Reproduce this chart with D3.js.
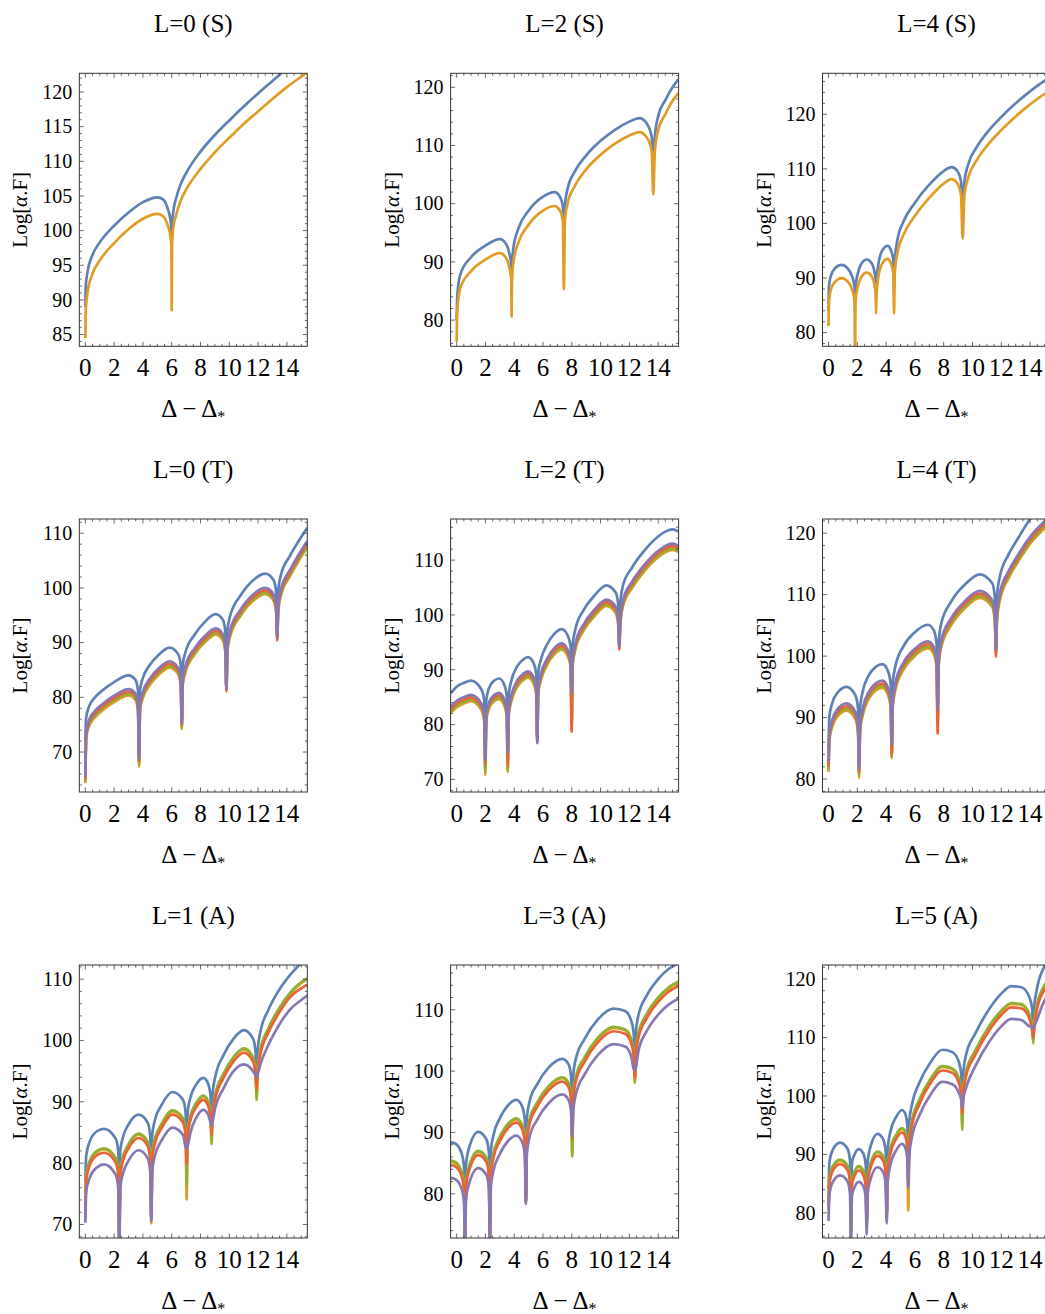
<!DOCTYPE html>
<html><head><meta charset="utf-8">
<script src="https://cdn.jsdelivr.net/npm/d3@7"></script>
<style>html,body{margin:0;padding:0;background:#fff}svg{display:block}</style>
</head><body><svg id="c" width="1045" height="1314"></svg>
<script>
// ---------- titles & ticks ----------
const titles = ["L=0 (S)","L=2 (S)","L=4 (S)","L=0 (T)","L=2 (T)","L=4 (T)","L=1 (A)","L=3 (A)","L=5 (A)"];
const xTicks = [0,2,4,6,8,10,12,14];
const yTicks1 = [85,90,95,100,105,110,115,120];
const yTicks80_120 = [80,90,100,110,120];
const yTicks70_110 = [70,80,90,100,110];
const yTicks80_110 = [80,90,100,110];
const yDomains = [[83.3,122.7],[75.5,122.4],[77.5,127.5],[62.7,112.6],[67.7,117.5],[77.9,122.3],[67.8,112.3],[72.8,117.3],[75.7,122.4]];

// ---------- P1  L=0 (S) ----------
const p1_x = [0,0.03,0.15,0.5,1,2,3,4,5,5.4,5.7,5.9,5.98,6.0,6.02,6.1,6.3,6.6,7,8,9,10,11,12,13,14,15,15.42];
const p1_blue = [89,92,94,96.5,98.3,100.7,102.6,104.1,104.8,104.5,103.3,101.7,100.2,96,100.6,102.6,104.6,106.6,108.3,111.4,113.8,115.9,117.9,119.8,121.6,123.4,125,125.7];
const p1_orange = [84.5,88.5,91,93.8,95.7,98.2,100.2,101.7,102.4,102.1,100.9,99.3,97.8,88.5,98.2,100.2,102.2,104.2,105.9,108.9,111.3,113.4,115.4,117.2,119,120.7,122.2,122.8];

// ---------- P2  L=2 (S) ----------
const p2_x = [0,0.04,0.25,1,2,3,3.45,3.7,3.8,3.82,3.84,3.95,4.3,5,6,6.8,7.2,7.38,7.45,7.52,7.7,8.2,9,10,11,12,12.7,13.2,13.55,13.66,13.77,14,14.5,15,15.42];
const p2_blue = [80,84,87.8,90.8,92.8,93.9,93,91,89.5,84,89.5,92.5,95.8,98.8,101.2,102,101.1,99.5,95,99.5,102.5,105.5,108.3,110.8,112.7,114.1,114.7,113.8,111.5,107,111.5,115,117.8,120,121.4];
const p2_orange = [76.3,81.5,85.5,88.4,90.4,91.5,90.6,88.6,87,80.6,87,90,93.4,96.4,98.8,99.6,98.7,97,85.3,97,100,103,105.9,108.4,110.3,111.7,112.3,111.4,109,101.6,109,112.6,115.4,117.7,119];

// ---------- P3  L=4 (S) ----------
const p3_x = [0,0.03,0.15,0.45,0.9,1.35,1.65,1.8,1.84,1.88,2.05,2.3,2.65,3.0,3.2,3.28,3.3,3.33,3.45,3.7,4.1,4.35,4.5,4.55,4.6,4.8,5.2,6,7,8,8.55,8.95,9.2,9.32,9.44,9.7,10.3,11,12,13,14,15,15.42];
const p3_blue = [84,88.5,90.3,91.8,92.4,91.7,90.2,88.5,85,88.5,91,92.7,93.4,92.7,91,89.5,86,89.5,92.3,94.9,95.9,95,93.2,88,93.2,97.2,100.3,103.8,107.1,109.6,110.3,109.6,107.7,103,107.7,110.8,114,116.6,119.5,122,124.2,126.1,126.7];
const p3_orange = [81.2,85.5,87.8,89.3,90,89.3,87.8,86,76,86,88.6,90.3,91,90.3,88.6,87,83.5,87,90,92.5,93.5,92.6,90.8,83.5,90.8,94.8,97.9,101.4,104.7,107.3,108.1,107.3,105.3,97.2,105.3,108.4,111.6,114.2,117.1,119.6,121.8,123.7,124.3];

// ---------- P4  L=0 (T) ----------
const p4_x = [0,0.06,0.25,0.6,1.2,2.0,3.0,3.48,3.66,3.73,3.80,3.98,4.5,5.1,5.85,6.45,6.63,6.7,6.77,6.95,7.6,8.3,9.05,9.55,9.73,9.8,9.87,10.05,10.8,11.7,12.5,13.08,13.26,13.33,13.40,13.58,14.2,14.8,15.42];
const p4_blue = [72,76.3,78.3,79.8,81.3,82.8,84.0,83.2,81.2,75,81.4,83.4,86.0,87.8,89.1,87.9,85.8,80,86.0,88.2,91.5,93.8,95.2,94.2,91.9,86,92.2,94.8,98.7,101.5,102.6,101.4,99.2,94,99.5,102.3,105.8,108.5,111.0];
const p4_orange = [64.3,72.65,74.65,76.15,77.65,79.15,80.35,79.55,77.55,67.4,77.75,79.75,82.35,84.15,85.45,84.25,82.15,74.2,82.35,84.55,87.85,90.05,91.45,90.45,88.15,81.6,88.45,91.05,94.95,97.75,98.85,97.65,95.45,91.0,95.75,98.55,102.05,104.85,107.45];
const p4_green = [64.6,72.95,74.95,76.45,77.95,79.45,80.65,79.85,77.85,67.8,78.05,80.05,82.65,84.45,85.75,84.55,82.45,74.4,82.65,84.85,88.15,90.35,91.75,90.75,88.45,81.5,88.75,91.35,95.25,98.05,99.15,97.95,95.75,90.8,96.05,98.85,102.35,105.15,107.75];
const p4_red = [65.0,73.35,75.35,76.85,78.35,79.85,81.05,80.25,78.25,68.3,78.45,80.45,83.05,84.85,86.15,84.95,82.85,74.9,83.05,85.25,88.55,90.75,92.15,91.15,88.85,81.1,89.15,91.75,95.65,98.45,99.55,98.35,96.15,90.4,96.45,99.25,102.75,105.55,108.15];
const p4_purple = [65.4,73.8,75.8,77.3,78.8,80.3,81.5,80.7,78.7,68.8,78.9,80.9,83.5,85.3,86.6,85.4,83.3,75.2,83.5,85.7,89.0,91.2,92.6,91.6,89.3,81.5,89.6,92.2,96.1,98.9,100.0,98.8,96.6,90.8,96.9,99.7,103.2,106.0,108.6];

// ---------- P5  L=2 (T) ----------
const p5_x = [-0.42,0,0.5,1.0,1.74,1.92,1.99,2.06,2.24,2.6,2.95,3.3,3.48,3.55,3.62,3.8,4.2,4.6,4.95,5.35,5.53,5.6,5.67,5.85,6.3,6.8,7.3,7.74,7.92,7.99,8.06,8.24,8.8,9.6,10.4,11.05,11.23,11.3,11.37,11.55,12.2,13,14,14.5,15,15.42];
const p5_blue = [85.7,86.9,87.6,88.0,86.3,84.3,79,84.5,86.6,88.0,88.4,87.3,85.3,80,85.5,88.0,90.6,91.8,92.3,91.2,89.3,84,89.5,91.8,94.7,96.6,97.4,96.1,94.2,88,94.5,97.3,100.8,103.6,105.4,104.1,101.8,96,102,105.3,108.7,111.6,114.3,115.2,115.6,115.2];
const p5_orange = [82.05,83.15,83.85,84.25,82.55,80.55,70.8,80.75,82.85,84.25,84.65,83.55,81.55,71.4,81.75,84.25,86.85,88.05,88.55,87.45,85.55,77.2,85.75,88.05,90.95,92.85,93.65,92.35,90.45,80.5,90.75,93.55,97.05,99.85,101.65,100.35,98.05,94.5,98.25,101.55,104.95,107.85,110.55,111.45,111.85,111.45];
const p5_green = [82.35,83.45,84.15,84.55,82.85,80.85,71.4,81.05,83.15,84.55,84.95,83.85,81.85,71.7,82.05,84.55,87.15,88.35,88.85,87.75,85.85,77.0,86.05,88.35,91.25,93.15,93.95,92.65,90.75,80.0,91.05,93.85,97.35,100.15,101.95,100.65,98.35,94.3,98.55,101.85,105.25,108.15,110.85,111.75,112.15,111.75];
const p5_red = [82.75,83.85,84.55,84.95,83.25,81.25,72.6,81.45,83.55,84.95,85.35,84.25,82.25,72.6,82.45,84.95,87.55,88.75,89.25,88.15,86.25,76.8,86.45,88.75,91.65,93.55,94.35,93.05,91.15,78.7,91.45,94.25,97.75,100.55,102.35,101.05,98.75,93.7,98.95,102.25,105.65,108.55,111.25,112.15,112.55,112.15];
const p5_purple = [83.2,84.3,85.0,85.4,83.7,81.7,73.5,81.9,84.0,85.4,85.8,84.7,82.7,74.6,82.9,85.4,88.0,89.2,89.7,88.6,86.7,76.6,86.9,89.2,92.1,94.0,94.8,93.5,91.6,85.7,91.9,94.7,98.2,101.0,102.8,101.5,99.2,94.2,99.4,102.7,106.1,109.0,111.7,112.6,113.0,112.6];

// ---------- P6  L=4 (T) ----------
const p6_x = [0,0.06,0.25,0.6,1.25,1.87,2.05,2.12,2.19,2.37,2.8,3.3,3.75,4.14,4.32,4.39,4.46,4.64,5.2,6.0,6.9,7.33,7.51,7.58,7.65,7.83,8.5,9.5,10.5,11.38,11.56,11.63,11.70,11.88,12.5,13.2,14,15,15.42];
const p6_blue = [85,90.2,92.3,94.0,95.0,93.6,91.4,86,91.6,94.2,96.9,98.3,98.7,97.5,95.4,90,95.6,98.3,101.6,103.9,105.1,104.1,101.9,96,102.2,105.3,108.8,111.7,113.3,111.8,109.3,104,109.6,112.7,116.5,119.3,122.3,125.2,126.3];
const p6_orange = [81.2,86.35,88.45,90.15,91.15,89.75,87.55,80.2,87.75,90.35,93.05,94.45,94.85,93.65,91.55,83.4,91.75,94.45,97.75,100.05,101.25,100.25,98.05,89.5,98.35,101.45,104.95,107.85,109.45,107.95,105.45,100.8,105.75,108.85,112.65,115.45,118.25,120.75,121.65];
const p6_green = [81.5,86.65,88.75,90.45,91.45,90.05,87.85,80.6,88.05,90.65,93.35,94.75,95.15,93.95,91.85,83.5,92.05,94.75,98.05,100.35,101.55,100.55,98.35,89.0,98.65,101.75,105.25,108.15,109.75,108.25,105.75,100.5,106.05,109.15,112.95,115.75,118.55,121.05,121.95];
const p6_red = [82.0,87.05,89.15,90.85,91.85,90.45,88.25,81.2,88.45,91.05,93.75,95.15,95.55,94.35,92.25,83.9,92.45,95.15,98.45,100.75,101.95,100.95,98.75,87.4,99.05,102.15,105.65,108.55,110.15,108.65,106.15,99.9,106.45,109.55,113.35,116.15,118.95,121.45,122.35];
const p6_purple = [82.8,87.5,89.6,91.3,92.3,90.9,88.7,81.7,88.9,91.5,94.2,95.6,96.0,94.8,92.7,85.5,92.9,95.6,98.9,101.2,102.4,101.4,99.2,91.2,99.5,102.6,106.1,109.0,110.6,109.1,106.6,101.0,106.9,110.0,113.8,116.6,119.4,121.9,122.8];

// ---------- P7  L=1 (A) ----------
const p7_x = [0,0.06,0.3,0.8,1.3,2.11,2.29,2.36,2.43,2.61,3.0,3.7,4.33,4.51,4.58,4.65,4.83,5.3,6.05,6.79,6.97,7.04,7.11,7.29,7.7,8.2,8.52,8.70,8.77,8.84,9.02,9.6,10.3,11.0,11.65,11.83,11.9,11.97,12.15,12.7,13.4,14.2,15,15.42];
const p7_blue = [77,81.2,83.5,85.2,85.6,84.0,81.8,76,82.0,84.2,86.3,87.9,86.6,84.4,79,84.6,87.0,89.5,91.6,90.3,88.1,83,88.3,90.6,92.8,93.9,93.0,91.0,86,91.3,94.0,97.6,100.3,101.7,100.3,98.0,93,98.3,101.3,104.9,108.0,110.6,112.6,113.4];
const p7_orange = [71.5,77.85,80.15,81.85,82.25,80.65,78.45,67.2,78.65,80.85,82.95,84.65,83.35,81.15,70.2,81.35,83.75,86.25,88.45,87.15,84.95,74.1,85.15,87.45,89.65,90.85,89.95,87.95,84.0,88.25,90.95,94.45,97.15,98.55,97.15,94.85,91.0,95.15,98.15,101.75,104.85,107.55,109.35,109.95];
const p7_green = [71.2,78,80.3,82.0,82.4,80.8,78.6,67,78.8,81.0,83.1,84.8,83.5,81.3,71,81.5,83.9,86.4,88.6,87.3,85.1,76.5,85.3,87.6,89.8,91.0,90.1,88.1,83.1,88.4,91.1,94.6,97.3,98.7,97.3,95.0,90.3,95.3,98.3,101.9,105.0,107.7,109.5,110.1];
const p7_red = [71.0,77.3,79.6,81.3,81.7,80.1,77.9,67.0,78.1,80.3,82.4,84.1,82.8,80.6,71.0,80.8,83.2,85.7,87.9,86.6,84.4,79.8,84.6,86.9,89.1,90.3,89.4,87.4,84.6,87.7,90.4,93.9,96.6,98.0,96.6,94.3,92.0,94.6,97.6,101.2,104.3,107.0,108.5,109.1];
const p7_purple = [70.3,75.3,77.6,79.3,79.8,78.1,75.9,66.0,76.1,78.3,80.4,82.1,80.8,78.6,70.5,78.8,81.2,83.7,85.8,84.6,82.6,82.4,82.8,84.9,87.4,88.7,88.0,86.6,86.2,86.8,89.0,92.2,95.0,96.1,95.0,94.3,94.0,94.4,96.0,99.2,102.3,105.0,106.6,107.3];

// ---------- P8  L=3 (A) ----------
const p8_x = [-0.42,-0.1,0.33,0.51,0.58,0.65,0.83,1.5,2.06,2.24,2.31,2.38,2.56,3.0,3.6,4.15,4.56,4.74,4.81,4.88,5.06,5.6,6.4,7.35,7.78,7.96,8.03,8.10,8.28,8.9,9.8,10.9,11.7,12.13,12.31,12.38,12.45,12.63,13.2,14,14.7,15.42];
const p8_blue = [88.4,88.2,86.7,84.5,79,84.7,87.2,90.1,88.9,86.7,81,87.0,89.6,92.3,94.5,95.3,94.2,92.0,86,92.3,95.0,97.9,100.6,102.0,101.1,98.9,93,99.2,102.0,105.3,108.4,110.2,109.8,108.2,105.9,100,106.2,109.1,112.3,115.0,116.6,117.6];
const p8_orange = [85.25,85.05,83.55,81.35,72.2,81.55,84.05,86.85,85.75,83.55,72.2,83.85,86.45,89.15,91.35,92.15,91.05,88.85,78.6,89.15,91.85,94.75,97.45,98.85,97.95,95.75,86.5,96.05,98.85,102.15,105.25,107.05,106.65,105.05,102.75,98.5,103.05,105.95,109.15,111.85,113.45,114.45];
const p8_green = [85.4,85.2,83.7,81.5,72,81.7,84.2,87.0,85.9,83.7,72,84.0,86.6,89.3,91.5,92.3,91.2,89.0,78.7,89.3,92.0,94.9,97.6,99.0,98.1,95.9,86.1,96.2,99.0,102.3,105.4,107.2,106.8,105.2,102.9,98.1,103.2,106.1,109.3,112.0,113.6,114.6];
const p8_red = [84.7,84.5,83.0,80.8,72.5,81.0,83.5,86.3,85.2,83.0,72.5,83.3,85.9,88.6,90.8,91.6,90.5,88.3,78.6,88.6,91.3,94.2,96.9,98.3,97.4,95.2,89.0,95.5,98.3,101.6,104.7,106.5,106.1,104.5,102.2,98.9,102.5,105.4,108.6,111.3,112.9,113.9];
const p8_purple = [82.6,82.4,80.9,78.7,72.0,78.9,81.4,84.2,83.1,80.9,72.0,81.2,83.8,86.5,88.7,89.5,88.4,86.2,78.3,86.5,89.2,92.1,94.8,96.2,95.3,93.1,89.4,93.4,96.2,99.5,102.6,104.4,104.0,102.4,100.3,100.2,100.5,103.3,106.5,109.2,110.8,111.8];

// ---------- P9  L=5 (A) ----------
const p9_x = [0,0.06,0.3,0.8,1.31,1.49,1.56,1.63,1.81,2.1,2.4,2.58,2.65,2.72,2.9,3.4,3.79,3.97,4.04,4.11,4.29,4.7,5.1,5.29,5.47,5.54,5.61,5.79,6.3,7.1,7.9,8.6,9.04,9.22,9.29,9.36,9.54,10.2,11.2,12.0,12.7,13.4,13.97,14.15,14.22,14.29,14.47,15.0,15.42];
const p9_blue = [84,88.6,90.8,92.0,91.0,89.0,84,88.6,90.0,90.9,90.2,88.3,84,88.8,91.2,93.5,92.6,90.5,86,91.0,93.8,96.4,97.6,97.2,95.2,90,95.6,98.5,102.2,105.8,107.9,107.5,105.9,103.7,99,104.0,106.9,110.7,115.0,117.5,118.8,118.6,116.8,114.8,110,115.2,118.2,122.2,124.0];
const p9_orange = [81.5,85.65,87.85,88.95,87.95,85.95,76.5,85.55,86.95,87.85,87.15,85.25,78.0,85.85,88.15,90.35,89.55,87.45,79.5,87.85,90.65,93.25,94.35,93.95,91.95,80.4,92.45,95.45,99.15,102.85,104.95,104.55,102.95,100.75,95.0,101.05,103.85,107.65,111.95,114.45,115.75,115.55,113.75,111.75,109.5,112.15,115.25,118.75,120.15];
const p9_green = [81,85.8,88.0,89.1,88.1,86.1,76,85.7,87.1,88.0,87.3,85.4,77.5,86.0,88.3,90.5,89.7,87.6,79,88.0,90.8,93.4,94.5,94.1,92.1,84.5,92.6,95.6,99.3,103.0,105.1,104.7,103.1,100.9,94.2,101.2,104.0,107.8,112.1,114.6,115.9,115.7,113.9,111.9,109.0,112.3,115.4,118.9,120.3];
const p9_red = [80.5,85.05,87.25,88.35,87.35,85.35,83.0,84.95,86.35,87.25,86.55,84.65,78.3,85.25,87.55,89.75,88.95,86.85,79.0,87.25,90.05,92.65,93.75,93.35,91.35,85.5,91.85,94.85,98.55,102.25,104.35,103.95,102.35,100.15,97.0,100.45,103.25,107.05,111.35,113.85,115.15,114.95,113.15,111.15,110.0,111.55,114.65,118.15,119.55];
const p9_purple = [78.6,83.1,85.3,86.4,85.4,83.4,75.0,83.0,84.4,85.3,84.6,82.7,76.3,83.3,85.6,87.8,87.0,84.9,78.2,85.3,88.1,90.7,91.8,91.4,89.4,84.3,89.9,92.9,96.6,100.3,102.4,102.0,100.6,99.3,98.0,99.5,101.3,105.1,109.4,111.9,113.2,113.0,111.9,111.8,111.5,111.9,113.0,116.3,117.7];

// ---------- assembly ----------
const colors = {blue:"#5E81B5", orange:"#E19C24", green:"#8FB032", red:"#EB6235", purple:"#8778B3"};
const panels = [
  {x:p1_x, s:[["blue",p1_blue],["orange",p1_orange]], yt:yTicks1, minor:1},
  {x:p2_x, s:[["blue",p2_blue],["orange",p2_orange]], yt:yTicks80_120, minor:2},
  {x:p3_x, s:[["blue",p3_blue],["orange",p3_orange]], yt:yTicks80_120, minor:2},
  {x:p4_x, s:[["blue",p4_blue],["orange",p4_orange],["green",p4_green],["red",p4_red],["purple",p4_purple]], yt:yTicks70_110, minor:2},
  {x:p5_x, s:[["blue",p5_blue],["orange",p5_orange],["green",p5_green],["red",p5_red],["purple",p5_purple]], yt:yTicks70_110, minor:2},
  {x:p6_x, s:[["blue",p6_blue],["orange",p6_orange],["green",p6_green],["red",p6_red],["purple",p6_purple]], yt:yTicks80_120, minor:2},
  {x:p7_x, s:[["blue",p7_blue],["orange",p7_orange],["green",p7_green],["red",p7_red],["purple",p7_purple]], yt:yTicks70_110, minor:2},
  {x:p8_x, s:[["blue",p8_blue],["orange",p8_orange],["green",p8_green],["red",p8_red],["purple",p8_purple]], yt:yTicks80_110, minor:2},
  {x:p9_x, s:[["blue",p9_blue],["orange",p9_orange],["green",p9_green],["red",p9_red],["purple",p9_purple]], yt:yTicks80_120, minor:2},
];

const colLeft = [79.3, 450.6, 822.5], rowTop = [73.3, 519, 965];
const PW = 228, PH = 273;
const FONT = "'Liberation Serif','Times New Roman',serif";
const svg = d3.select("#c");

panels.forEach((p, i) => {
  const L = colLeft[i % 3], T = rowTop[Math.floor(i / 3)];
  const g = svg.append("g").attr("transform", `translate(${L},${T})`);
  const xs = d3.scaleLinear().domain([-0.42, 15.42]).range([0, PW]);
  const ys = d3.scaleLinear().domain(yDomains[i]).range([PH, 0]);

  g.append("clipPath").attr("id", "clip" + i).append("rect").attr("width", PW).attr("height", PH);
  const line = d3.line().x(d => xs(d[0])).y(d => ys(d[1])).curve(d3.curveMonotoneX);
  const cg = g.append("g").attr("clip-path", `url(#clip${i})`);
  p.s.forEach(([c, vals]) => {
    cg.append("path").datum(p.x.map((x, k) => [x, vals[k]]))
      .attr("d", line).attr("fill", "none").attr("stroke", colors[c])
      .attr("stroke-width", 2.7).attr("stroke-linejoin", "round");
  });

  // ticks
  const tk = g.append("g").attr("stroke", "#444").attr("stroke-width", 0.8);
  const xMinor = d3.range(0, 15.5, 0.5);
  xMinor.forEach(v => {
    const len = (v % 2 === 0) ? 4.5 : 2.5;
    const X = xs(v);
    tk.append("line").attr("x1", X).attr("x2", X).attr("y1", PH).attr("y2", PH - len);
    tk.append("line").attr("x1", X).attr("x2", X).attr("y1", 0).attr("y2", len);
  });
  const [y0, y1] = yDomains[i];
  for (let v = Math.ceil(y0 / p.minor) * p.minor; v <= y1; v += p.minor) {
    const major = p.yt.includes(v);
    const len = major ? 4.5 : 2.5;
    const Y = ys(v);
    tk.append("line").attr("x1", 0).attr("x2", len).attr("y1", Y).attr("y2", Y);
    tk.append("line").attr("x1", PW).attr("x2", PW - len).attr("y1", Y).attr("y2", Y);
  }
  g.append("rect").attr("width", PW).attr("height", PH).attr("fill", "none")
    .attr("stroke", "#333").attr("stroke-width", 1);

  // tick labels
  xTicks.forEach(v => {
    g.append("text").attr("x", xs(v)).attr("y", PH + 30).attr("text-anchor", "middle")
      .attr("font-family", FONT).attr("font-size", 25).text(v);
  });
  p.yt.forEach(v => {
    g.append("text").attr("x", -7).attr("y", ys(v)).attr("dy", "0.34em").attr("text-anchor", "end")
      .attr("font-family", FONT).attr("font-size", 20).text(v);
  });

  // title
  g.append("text").attr("x", PW / 2).attr("y", -41.3).attr("text-anchor", "middle")
    .attr("font-family", FONT).attr("font-size", 25).text(titles[i]);
  // x label
  const xl = g.append("text").attr("x", PW / 2).attr("y", PH + 71).attr("text-anchor", "middle")
    .attr("font-family", FONT).attr("font-size", 25);
  xl.append("tspan").text("Δ − Δ");
  xl.append("tspan").attr("font-size", 16).attr("dy", 5).text("*");
  // y label
  const yl = g.append("text").attr("transform", `translate(-52,${PH / 2}) rotate(-90)`)
    .attr("text-anchor", "middle").attr("font-family", FONT).attr("font-size", 21);
  yl.append("tspan").text("Log[");
  yl.append("tspan").attr("font-style", "italic").text("α");
  yl.append("tspan").text(".F]");
});
</script></body></html>
